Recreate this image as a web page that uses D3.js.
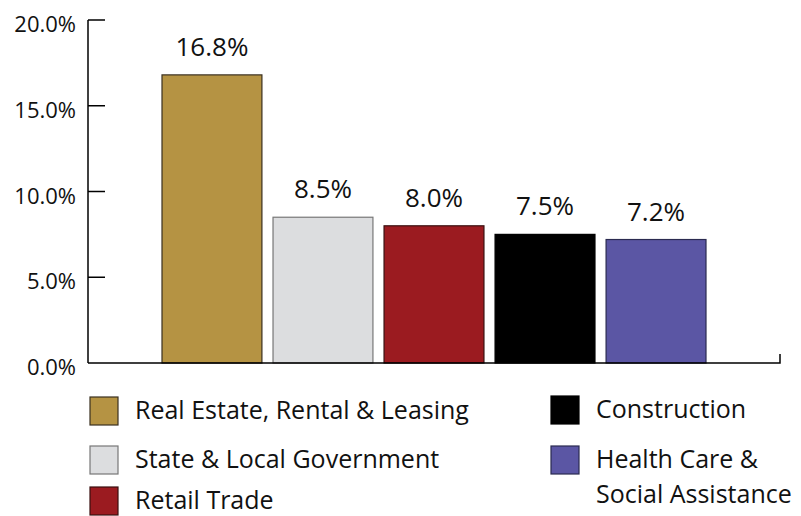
<!DOCTYPE html>
<meta charset="utf-8">
<script src="https://d3js.org/d3.v7.min.js"></script>
<style>
body { margin: 0; background: #fff; }
text { font-family: "Open Sans", "Noto Sans", sans-serif; fill: #111; }
.axis line, .axis path { stroke: #000; stroke-width: 1.5px; }
</style>
<body>
<script>

var categories = ["Real Estate, Rental & Leasing", "State & Local Government", "Retail Trade", "Construction", "Health Care & Social Assistance"];
var values = [16.8, 8.5, 8.0, 7.5, 7.2];
var colors = ["#b59343", "#dcdddf", "#9b1b20", "#000000", "#5b56a4"];
var strokes = ["#3a3020", "#777777", "#3a1010", "#000000", "#2a2a50"];
var tickValues = [0, 5, 10, 15, 20];

var width = 801, height = 516;

var svg = d3.select("body").append("svg")
    .attr("width", width)
    .attr("height", height);

var y = d3.scaleLinear().domain([0, 20]).range([363, 20]);

var x = d3.scaleBand()
    .domain(d3.range(categories.length))
    .range([162, 706])
    .paddingInner(0.1)
    .paddingOuter(0);

// y axis
var yAxis = svg.append("g").attr("class", "axis");
yAxis.append("line")
    .attr("x1", 88).attr("x2", 88)
    .attr("y1", y(20)).attr("y2", y(0));
yAxis.selectAll(".tick")
    .data(tickValues.filter(d => d > 0))
    .enter().append("line")
    .attr("x1", 88).attr("x2", 105)
    .attr("y1", d => y(d)).attr("y2", d => y(d));
yAxis.selectAll("text")
    .data(tickValues)
    .enter().append("text")
    .attr("x", 76)
    .attr("y", d => y(d) + 12)
    .attr("text-anchor", "end")
    .style("font-size", "22px")
    .text(d => d.toFixed(1) + "%");

// bars
svg.append("g")
    .selectAll("rect")
    .data(values)
    .enter().append("rect")
    .attr("x", (d, i) => x(i))
    .attr("y", d => y(d))
    .attr("width", x.bandwidth())
    .attr("height", d => y(0) - y(d))
    .attr("fill", (d, i) => colors[i])
    .attr("stroke", (d, i) => strokes[i])
    .attr("stroke-width", 1.2);

// value labels
svg.append("g")
    .selectAll("text")
    .data(values)
    .enter().append("text")
    .attr("x", (d, i) => x(i) + x.bandwidth() / 2)
    .attr("y", d => y(d) - 19)
    .attr("text-anchor", "middle")
    .style("font-size", "26px")
    .text(d => d.toFixed(1) + "%");

// baseline with end tick
svg.append("path")
    .attr("d", "M88," + y(0) + "H780V" + (y(0) - 9))
    .attr("fill", "none")
    .attr("stroke", "#000")
    .attr("stroke-width", 1.5);

// legend
var legendPos = [
  {x: 90, y: 397, lines: [categories[0]]},
  {x: 90, y: 446, lines: [categories[1]]},
  {x: 90, y: 487, lines: [categories[2]]},
  {x: 551, y: 396, lines: [categories[3]]},
  {x: 551, y: 446, lines: ["Health Care &", "Social Assistance"]}
];

var leg = svg.append("g")
    .selectAll("g")
    .data(legendPos)
    .enter().append("g")
    .attr("transform", d => "translate(" + d.x + "," + d.y + ")");

leg.append("rect")
    .attr("width", 28).attr("height", 28)
    .attr("fill", (d, i) => colors[i])
    .attr("stroke", (d, i) => strokes[i])
    .attr("stroke-width", 1.2);

leg.each(function(d) {
  var t = d3.select(this).append("text")
      .style("font-size", "25px");
  d.lines.forEach(function(l, j) {
    t.append("tspan")
      .attr("x", 45)
      .attr("y", 22 + j * 35)
      .text(l);
  });
});

</script>
</body>
